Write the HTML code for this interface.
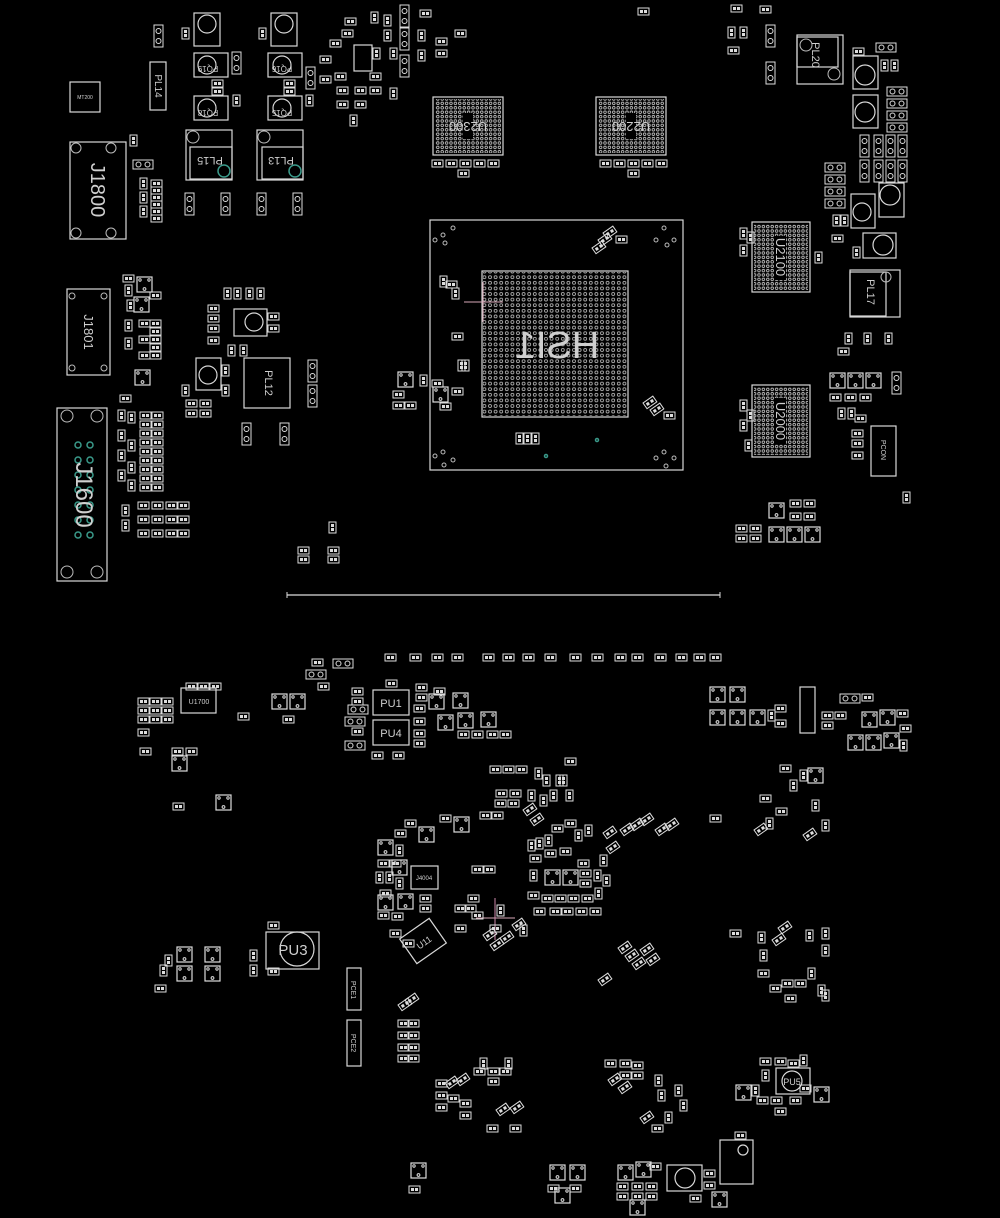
<!DOCTYPE html>
<html><head><meta charset="utf-8"><style>
html,body{margin:0;padding:0;background:#000;}
svg{display:block}
text{font-family:"Liberation Sans",sans-serif;fill:#cfcfcf}
</style></head><body>
<svg width="1000" height="1218" viewBox="0 0 1000 1218" xmlns="http://www.w3.org/2000/svg">
<defs>
<pattern id="bga" width="5.6" height="5.6" patternUnits="userSpaceOnUse"><circle cx="2.8" cy="2.8" r="1.5" fill="none" stroke="#bbb" stroke-width="0.8"/></pattern>
<pattern id="bga2" width="4.4" height="4.4" patternUnits="userSpaceOnUse"><circle cx="2.2" cy="2.2" r="1.3" fill="none" stroke="#ccc" stroke-width="0.8"/></pattern>
<g id="h"><rect x="0" y="0" width="11" height="7" fill="none" stroke="#ddd" stroke-width="1"/><rect x="2" y="2" width="3" height="3" fill="#ddd"/><rect x="6" y="2" width="3" height="3" fill="#ddd"/></g>
<g id="v"><rect x="0" y="0" width="7" height="11" fill="none" stroke="#ddd" stroke-width="1"/><rect x="2" y="2" width="3" height="3" fill="#ddd"/><rect x="2" y="6" width="3" height="3" fill="#ddd"/></g>
<g id="V"><rect x="0" y="0" width="9" height="22" fill="none" stroke="#ddd" stroke-width="1"/><circle cx="4.5" cy="6" r="2.5" fill="none" stroke="#ddd"/><circle cx="4.5" cy="16" r="2.5" fill="none" stroke="#ddd"/></g>
<g id="H"><rect x="0" y="0" width="20" height="9" fill="none" stroke="#ddd" stroke-width="1"/><circle cx="5.5" cy="4.5" r="2.5" fill="none" stroke="#ddd"/><circle cx="14.5" cy="4.5" r="2.5" fill="none" stroke="#ddd"/></g>
<g id="s"><rect x="0" y="0" width="15" height="15" fill="none" stroke="#ddd" stroke-width="1.2"/><circle cx="3" cy="3" r="1.2" fill="none" stroke="#ddd"/><circle cx="12" cy="3" r="1.2" fill="none" stroke="#ddd"/><circle cx="7.5" cy="12" r="1.4" fill="none" stroke="#ddd"/></g>
<g id="d"><rect x="0" y="0" width="12" height="7" fill="none" stroke="#ddd" transform="rotate(-35)"/><rect x="2" y="2" width="3" height="3" fill="#ddd" transform="rotate(-35)"/><rect x="7" y="2" width="3" height="3" fill="#ddd" transform="rotate(-35)"/></g>
</defs>
<g fill="none" stroke="#d8d8d8" stroke-width="1.2">
<rect x="430" y="220" width="253" height="250"/>
<rect x="482" y="271" width="146" height="146"/>
<rect x="433" y="97" width="70" height="58"/>
<rect x="596" y="97" width="70" height="58"/>
<rect x="752" y="222" width="58" height="70"/>
<rect x="752" y="385" width="58" height="72"/>
<rect x="70" y="142" width="56" height="97"/>
<rect x="67" y="289" width="43" height="86"/>
<rect x="57" y="408" width="50" height="173"/>
<rect x="70" y="82" width="30" height="30"/>
<rect x="150" y="62" width="16" height="48"/>
<rect x="194" y="13" width="26" height="33"/><circle cx="207" cy="24" r="9"/>
<rect x="271" y="13" width="26" height="33"/><circle cx="284" cy="24" r="9"/>
<rect x="194" y="53" width="34" height="24"/><circle cx="207" cy="65" r="9"/>
<rect x="268" y="53" width="34" height="24"/><circle cx="282" cy="65" r="9"/>
<rect x="194" y="96" width="34" height="24"/><circle cx="207" cy="108" r="9"/>
<rect x="268" y="96" width="34" height="24"/><circle cx="282" cy="108" r="9"/>
<rect x="186" y="130" width="46" height="50"/><rect x="190" y="147" width="42" height="32"/>
<rect x="257" y="130" width="46" height="50"/><rect x="262" y="147" width="41" height="32"/>
<rect x="797" y="35" width="46" height="49"/><rect x="797" y="37" width="41" height="30"/>
<rect x="853" y="56" width="25" height="33"/><circle cx="865" cy="75" r="10"/>
<rect x="853" y="95" width="25" height="33"/><circle cx="865" cy="112" r="10"/>
<rect x="879" y="183" width="25" height="34"/><circle cx="890" cy="195" r="10"/>
<rect x="851" y="194" width="24" height="34"/><circle cx="862" cy="212" r="9"/>
<rect x="863" y="233" width="33" height="25"/><circle cx="883" cy="245" r="10"/>
<rect x="850" y="270" width="50" height="47"/><rect x="850" y="272" width="36" height="44"/>
<rect x="871" y="426" width="25" height="50"/>
<rect x="234" y="309" width="33" height="27"/><circle cx="254" cy="322" r="9"/>
<rect x="196" y="358" width="25" height="32"/><circle cx="208" cy="375" r="9"/>
<rect x="244" y="358" width="46" height="50"/>
<rect x="181" y="688" width="35" height="25"/>
<rect x="373" y="690" width="36" height="25"/><rect x="373" y="720" width="36" height="25"/>
<rect x="266" y="932" width="53" height="37"/><circle cx="297" cy="949" r="17"/>
<rect x="411" y="866" width="27" height="23"/>
<rect x="347" y="968" width="14" height="42"/><rect x="347" y="1020" width="14" height="46"/>
<rect x="800" y="687" width="15" height="46"/>
<rect x="776" y="1068" width="34" height="26"/><circle cx="792" cy="1081" r="10"/>
<rect x="667" y="1165" width="35" height="26"/><circle cx="685" cy="1178" r="10"/>
<rect x="720" y="1140" width="33" height="44"/><circle cx="743" cy="1150" r="5"/>
<rect x="405" y="926" width="36" height="30" transform="rotate(-35 423 941)"/>
<rect x="354" y="45" width="18" height="26"/>
</g>
<rect x="483" y="272" width="144" height="144" fill="url(#bga)"/>
<rect x="435" y="99" width="66" height="54" fill="url(#bga2)"/>
<rect x="598" y="99" width="66" height="54" fill="url(#bga2)"/>
<rect x="754" y="224" width="54" height="66" fill="url(#bga2)"/>
<rect x="754" y="387" width="54" height="68" fill="url(#bga2)"/>
<rect x="463" y="113" width="10" height="26" fill="#000"/><rect x="626" y="113" width="10" height="26" fill="#000"/>
<rect x="774" y="236" width="12" height="44" fill="#000"/><rect x="774" y="398" width="12" height="46" fill="#000"/>
<line x1="287" y1="595" x2="720" y2="595" stroke="#ddd" stroke-width="1.3"/>
<line x1="287" y1="592" x2="287" y2="598" stroke="#ddd"/><line x1="720" y1="592" x2="720" y2="598" stroke="#ddd"/>
<line x1="464" y1="302" x2="503" y2="302" stroke="#d9a9b9"/><line x1="483" y1="282" x2="483" y2="322" stroke="#d9a9b9"/>
<line x1="476" y1="918" x2="515" y2="918" stroke="#d9a9b9"/><line x1="495" y1="898" x2="495" y2="940" stroke="#c8a"/>
<g fill="none" stroke="#bbb"><circle cx="443" cy="235" r="2"/><circle cx="453" cy="228" r="2"/><circle cx="435" cy="240" r="2"/><circle cx="445" cy="243" r="2"/>
<circle cx="664" cy="228" r="2"/><circle cx="674" cy="240" r="2"/><circle cx="656" cy="240" r="2"/><circle cx="667" cy="245" r="2"/>
<circle cx="443" cy="452" r="2"/><circle cx="453" cy="460" r="2"/><circle cx="435" cy="456" r="2"/><circle cx="444" cy="465" r="2"/>
<circle cx="664" cy="452" r="2"/><circle cx="674" cy="458" r="2"/><circle cx="656" cy="458" r="2"/><circle cx="666" cy="466" r="2"/>
<circle cx="76" cy="148" r="5"/><circle cx="111" cy="148" r="5"/><circle cx="76" cy="233" r="5"/><circle cx="111" cy="233" r="5"/>
<circle cx="67" cy="416" r="6"/><circle cx="97" cy="416" r="6"/><circle cx="67" cy="572" r="6"/><circle cx="97" cy="572" r="6"/>
<circle cx="72" cy="296" r="3"/><circle cx="104" cy="296" r="3"/><circle cx="72" cy="368" r="3"/><circle cx="104" cy="368" r="3"/>
<circle cx="193" cy="137" r="6"/><circle cx="264" cy="137" r="6"/><circle cx="806" cy="45" r="6"/><circle cx="834" cy="74" r="6"/>
<circle cx="886" cy="277" r="5"/></g>
<g fill="none" stroke="#3a9a8a" stroke-width="1.5"><circle cx="224" cy="171" r="6"/><circle cx="295" cy="171" r="6"/>
<circle cx="78" cy="445" r="3"/><circle cx="90" cy="445" r="3"/><circle cx="78" cy="460" r="3"/><circle cx="90" cy="460" r="3"/><circle cx="78" cy="475" r="3"/><circle cx="90" cy="475" r="3"/><circle cx="78" cy="490" r="3"/><circle cx="90" cy="490" r="3"/><circle cx="78" cy="505" r="3"/><circle cx="90" cy="505" r="3"/><circle cx="78" cy="520" r="3"/><circle cx="90" cy="520" r="3"/><circle cx="78" cy="535" r="3"/><circle cx="90" cy="535" r="3"/><circle cx="597" cy="440" r="1.5"/><circle cx="546" cy="456" r="1.5"/></g>
<text x="-557" y="358" font-size="38" fill="#ddd" text-anchor="middle" transform="scale(-1,1)">HSI1</text>
<text x="468" y="127" font-size="13" text-anchor="middle" transform="rotate(180 468 127)" dy="5">U2300</text>
<text x="631" y="127" font-size="13" text-anchor="middle" transform="rotate(180 631 127)" dy="5">U2200</text>
<text x="781" y="257" font-size="13" text-anchor="middle" transform="rotate(90 781 257)" dy="5">U2100</text>
<text x="781" y="421" font-size="13" text-anchor="middle" transform="rotate(90 781 421)" dy="5">U2000</text>
<text x="98" y="190" font-size="20" text-anchor="middle" transform="rotate(90 98 190)" dy="7">J1800</text>
<text x="89" y="332" font-size="13" text-anchor="middle" transform="rotate(90 89 332)" dy="5">J1801</text>
<text x="84" y="495" font-size="24" text-anchor="middle" transform="rotate(90 84 495)" dy="8">J1600</text>
<text x="293" y="955" font-size="15" text-anchor="middle">PU3</text>
<text x="199" y="704" font-size="7" text-anchor="middle">U1700</text>
<text x="424" y="880" font-size="6" text-anchor="middle">J4004</text>
<text x="158" y="86" font-size="10" text-anchor="middle" transform="rotate(90 158 86)" dy="3">PL14</text>
<text x="210" y="157" font-size="11" text-anchor="middle" transform="rotate(180 210 157)">PL15</text>
<text x="281" y="157" font-size="11" text-anchor="middle" transform="rotate(180 281 157)">PL13</text>
<text x="815" y="55" font-size="11" text-anchor="middle" transform="rotate(90 815 55)" dy="3">PL20</text>
<text x="870" y="292" font-size="11" text-anchor="middle" transform="rotate(90 870 292)" dy="3">PL17</text>
<text x="268" y="383" font-size="11" text-anchor="middle" transform="rotate(90 268 383)" dy="3">PL12</text>
<text x="884" y="450" font-size="7" text-anchor="middle" transform="rotate(90 884 450)" dy="3">PCON</text>
<text x="391" y="707" font-size="11" text-anchor="middle">PU1</text>
<text x="391" y="737" font-size="11" text-anchor="middle">PU4</text>
<text x="792" y="1085" font-size="9" text-anchor="middle">PU5</text>
<text x="423" y="946" font-size="9" text-anchor="middle" transform="rotate(-35 423 941)">U11</text>
<text x="85" y="99" font-size="5" text-anchor="middle">MT200</text>
<text x="353" y="990" font-size="7" text-anchor="middle" transform="rotate(90 353 990)" dy="2">PCE1</text>
<text x="353" y="1043" font-size="7" text-anchor="middle" transform="rotate(90 353 1043)" dy="2">PCE2</text>
<text x="208" y="66" font-size="8" text-anchor="middle" transform="rotate(180 208 66)">PQ19</text>
<text x="282" y="66" font-size="8" text-anchor="middle" transform="rotate(180 282 66)">PQ16</text>
<text x="208" y="110" font-size="8" text-anchor="middle" transform="rotate(180 208 110)">PQ18</text>
<text x="282" y="110" font-size="8" text-anchor="middle" transform="rotate(180 282 110)">PQ15</text>
<g>
<use href="#V" x="154" y="25"/><use href="#v" x="182" y="28"/><use href="#v" x="259" y="28"/><use href="#V" x="232" y="52"/><use href="#v" x="233" y="95"/><use href="#v" x="306" y="95"/><use href="#V" x="306" y="67"/>
<use href="#h" x="212" y="80"/><use href="#h" x="212" y="88"/><use href="#h" x="284" y="80"/><use href="#h" x="284" y="88"/>
<use href="#v" x="130" y="135"/><use href="#H" x="133" y="160"/><use href="#v" x="140" y="178"/><use href="#v" x="140" y="192"/><use href="#v" x="140" y="206"/>
<use href="#h" x="151" y="180"/><use href="#h" x="151" y="187"/><use href="#h" x="151" y="194"/><use href="#h" x="151" y="201"/><use href="#h" x="151" y="208"/><use href="#h" x="151" y="215"/>
<use href="#V" x="185" y="193"/><use href="#V" x="221" y="193"/><use href="#V" x="257" y="193"/><use href="#V" x="293" y="193"/>
<use href="#h" x="330" y="40"/><use href="#h" x="342" y="30"/><use href="#h" x="345" y="18"/><use href="#v" x="371" y="12"/><use href="#v" x="384" y="15"/><use href="#v" x="384" y="30"/><use href="#v" x="373" y="48"/><use href="#v" x="390" y="48"/><use href="#V" x="400" y="5"/><use href="#V" x="400" y="28"/><use href="#V" x="400" y="55"/><use href="#v" x="418" y="30"/><use href="#v" x="418" y="50"/><use href="#h" x="420" y="10"/><use href="#h" x="436" y="38"/><use href="#h" x="436" y="50"/><use href="#h" x="455" y="30"/>
<use href="#h" x="335" y="73"/><use href="#h" x="337" y="87"/><use href="#h" x="337" y="101"/><use href="#h" x="355" y="87"/><use href="#h" x="355" y="101"/><use href="#h" x="370" y="73"/><use href="#h" x="370" y="87"/><use href="#v" x="390" y="88"/><use href="#v" x="350" y="115"/><use href="#h" x="320" y="56"/><use href="#h" x="320" y="76"/>
<use href="#h" x="432" y="160"/><use href="#h" x="446" y="160"/><use href="#h" x="460" y="160"/><use href="#h" x="474" y="160"/><use href="#h" x="488" y="160"/><use href="#h" x="458" y="170"/>
<use href="#h" x="600" y="160"/><use href="#h" x="614" y="160"/><use href="#h" x="628" y="160"/><use href="#h" x="642" y="160"/><use href="#h" x="656" y="160"/><use href="#h" x="628" y="170"/>
<use href="#h" x="638" y="8"/><use href="#h" x="731" y="5"/><use href="#h" x="760" y="6"/><use href="#v" x="728" y="27"/><use href="#v" x="740" y="27"/><use href="#h" x="728" y="47"/><use href="#V" x="766" y="25"/><use href="#V" x="766" y="62"/><use href="#H" x="876" y="43"/><use href="#h" x="853" y="48"/>
<use href="#v" x="881" y="60"/><use href="#v" x="891" y="60"/><use href="#H" x="887" y="87"/><use href="#H" x="887" y="99"/><use href="#H" x="887" y="111"/><use href="#H" x="887" y="123"/>
<use href="#V" x="860" y="135"/><use href="#V" x="874" y="135"/><use href="#V" x="886" y="135"/><use href="#V" x="898" y="135"/><use href="#V" x="860" y="160"/><use href="#V" x="874" y="160"/><use href="#V" x="886" y="160"/><use href="#V" x="898" y="160"/>
<use href="#H" x="825" y="163"/><use href="#H" x="825" y="175"/><use href="#H" x="825" y="187"/><use href="#H" x="825" y="199"/><use href="#v" x="833" y="215"/><use href="#v" x="841" y="215"/><use href="#h" x="832" y="235"/><use href="#v" x="853" y="247"/><use href="#v" x="740" y="228"/><use href="#v" x="740" y="245"/><use href="#v" x="747" y="232"/><use href="#v" x="815" y="252"/>
<use href="#v" x="845" y="333"/><use href="#v" x="864" y="333"/><use href="#v" x="885" y="333"/><use href="#h" x="838" y="348"/>
<use href="#s" x="830" y="373"/><use href="#s" x="848" y="373"/><use href="#s" x="866" y="373"/><use href="#V" x="892" y="372"/><use href="#h" x="830" y="394"/><use href="#h" x="845" y="394"/><use href="#h" x="860" y="394"/><use href="#v" x="838" y="408"/><use href="#v" x="848" y="408"/><use href="#h" x="855" y="415"/><use href="#h" x="852" y="430"/><use href="#h" x="852" y="440"/><use href="#h" x="852" y="452"/><use href="#v" x="740" y="400"/><use href="#v" x="740" y="420"/><use href="#v" x="747" y="410"/><use href="#v" x="745" y="440"/><use href="#v" x="903" y="492"/>
<use href="#s" x="769" y="503"/><use href="#h" x="790" y="500"/><use href="#h" x="804" y="500"/><use href="#h" x="790" y="513"/><use href="#h" x="804" y="513"/><use href="#h" x="736" y="525"/><use href="#h" x="750" y="525"/><use href="#h" x="736" y="535"/><use href="#h" x="750" y="535"/><use href="#s" x="769" y="527"/><use href="#s" x="787" y="527"/><use href="#s" x="805" y="527"/>
<use href="#h" x="123" y="275"/><use href="#v" x="125" y="285"/><use href="#s" x="137" y="277"/><use href="#h" x="150" y="292"/><use href="#v" x="127" y="300"/><use href="#s" x="134" y="297"/><use href="#v" x="125" y="320"/><use href="#v" x="125" y="338"/><use href="#h" x="150" y="320"/><use href="#h" x="150" y="328"/><use href="#h" x="150" y="336"/><use href="#h" x="150" y="344"/><use href="#h" x="150" y="352"/><use href="#h" x="139" y="320"/><use href="#h" x="139" y="336"/><use href="#h" x="139" y="352"/><use href="#s" x="135" y="370"/>
<use href="#v" x="224" y="288"/><use href="#v" x="234" y="288"/><use href="#v" x="246" y="288"/><use href="#v" x="257" y="288"/><use href="#h" x="208" y="305"/><use href="#h" x="208" y="315"/><use href="#h" x="208" y="325"/><use href="#h" x="208" y="337"/><use href="#h" x="268" y="313"/><use href="#h" x="268" y="325"/><use href="#v" x="228" y="345"/><use href="#v" x="240" y="345"/>
<use href="#v" x="182" y="385"/><use href="#h" x="186" y="400"/><use href="#h" x="200" y="400"/><use href="#h" x="186" y="410"/><use href="#h" x="200" y="410"/><use href="#v" x="222" y="365"/><use href="#v" x="222" y="385"/><use href="#V" x="242" y="423"/><use href="#V" x="280" y="423"/><use href="#V" x="308" y="360"/><use href="#V" x="308" y="385"/>
<use href="#h" x="120" y="395"/><use href="#v" x="118" y="410"/><use href="#v" x="128" y="412"/><g id="col"><use href="#h" x="140" y="412"/><use href="#h" x="152" y="412"/><use href="#h" x="140" y="421"/><use href="#h" x="152" y="421"/><use href="#h" x="140" y="430"/><use href="#h" x="152" y="430"/><use href="#h" x="140" y="439"/><use href="#h" x="152" y="439"/></g>
<use href="#col" y="36"/><use href="#v" x="118" y="430"/><use href="#v" x="118" y="450"/><use href="#v" x="118" y="470"/><use href="#v" x="128" y="440"/><use href="#v" x="128" y="462"/><use href="#v" x="128" y="480"/><use href="#h" x="140" y="484"/><use href="#h" x="152" y="484"/>
<use href="#v" x="122" y="505"/><use href="#v" x="122" y="520"/><use href="#h" x="138" y="502"/><use href="#h" x="152" y="502"/><use href="#h" x="166" y="502"/><use href="#h" x="178" y="502"/><use href="#h" x="138" y="516"/><use href="#h" x="152" y="516"/><use href="#h" x="166" y="516"/><use href="#h" x="178" y="516"/><use href="#h" x="138" y="530"/><use href="#h" x="152" y="530"/><use href="#h" x="166" y="530"/><use href="#h" x="178" y="530"/>
<use href="#v" x="329" y="522"/><use href="#h" x="298" y="547"/><use href="#h" x="298" y="556"/><use href="#h" x="328" y="547"/><use href="#h" x="328" y="556"/>
<use href="#v" x="440" y="276"/><use href="#h" x="446" y="281"/><use href="#v" x="452" y="288"/><use href="#v" x="458" y="360"/><use href="#h" x="452" y="333"/><use href="#v" x="462" y="360"/><use href="#s" x="398" y="372"/><use href="#h" x="393" y="391"/><use href="#h" x="393" y="402"/><use href="#h" x="405" y="402"/><use href="#s" x="433" y="387"/><use href="#h" x="440" y="403"/><use href="#v" x="420" y="375"/><use href="#h" x="432" y="380"/><use href="#h" x="452" y="388"/><use href="#v" x="516" y="433"/><use href="#v" x="524" y="433"/><use href="#v" x="532" y="433"/>
<use href="#d" x="592" y="248"/><use href="#d" x="598" y="240"/><use href="#d" x="603" y="233"/><use href="#h" x="616" y="236"/><use href="#d" x="643" y="403"/><use href="#d" x="650" y="410"/><use href="#h" x="664" y="412"/>
<use href="#h" x="312" y="659"/><use href="#H" x="333" y="659"/><use href="#H" x="306" y="670"/><use href="#h" x="318" y="683"/>
<use href="#h" x="385" y="654"/><use href="#h" x="410" y="654"/><use href="#h" x="432" y="654"/><use href="#h" x="452" y="654"/><use href="#h" x="483" y="654"/><use href="#h" x="503" y="654"/><use href="#h" x="523" y="654"/><use href="#h" x="545" y="654"/><use href="#h" x="570" y="654"/><use href="#h" x="592" y="654"/><use href="#h" x="615" y="654"/><use href="#h" x="632" y="654"/><use href="#h" x="655" y="654"/><use href="#h" x="676" y="654"/><use href="#h" x="694" y="654"/><use href="#h" x="710" y="654"/>
<use href="#h" x="186" y="683"/><use href="#h" x="198" y="683"/><use href="#h" x="210" y="683"/><use href="#h" x="138" y="698"/><use href="#h" x="150" y="698"/><use href="#h" x="162" y="698"/><use href="#h" x="138" y="707"/><use href="#h" x="150" y="707"/><use href="#h" x="162" y="707"/><use href="#h" x="138" y="716"/><use href="#h" x="150" y="716"/><use href="#h" x="162" y="716"/><use href="#h" x="138" y="729"/><use href="#h" x="140" y="748"/><use href="#h" x="172" y="748"/><use href="#h" x="186" y="748"/><use href="#s" x="172" y="756"/><use href="#h" x="238" y="713"/><use href="#h" x="173" y="803"/><use href="#s" x="216" y="795"/>
<use href="#s" x="272" y="694"/><use href="#s" x="290" y="694"/><use href="#h" x="283" y="716"/>
<use href="#h" x="352" y="688"/><use href="#h" x="352" y="698"/><use href="#H" x="348" y="705"/><use href="#H" x="345" y="717"/><use href="#h" x="352" y="728"/><use href="#H" x="345" y="741"/><use href="#h" x="372" y="752"/><use href="#h" x="393" y="752"/><use href="#h" x="386" y="680"/><use href="#h" x="416" y="684"/><use href="#h" x="416" y="694"/><use href="#h" x="414" y="705"/><use href="#h" x="434" y="688"/><use href="#s" x="429" y="694"/><use href="#s" x="453" y="693"/><use href="#h" x="414" y="718"/><use href="#h" x="414" y="730"/><use href="#h" x="414" y="740"/><use href="#s" x="438" y="715"/><use href="#s" x="458" y="713"/><use href="#s" x="481" y="712"/><use href="#h" x="458" y="731"/><use href="#h" x="472" y="731"/><use href="#h" x="487" y="731"/><use href="#h" x="500" y="731"/>
<use href="#h" x="490" y="766"/><use href="#h" x="503" y="766"/><use href="#h" x="516" y="766"/><use href="#v" x="535" y="768"/><use href="#v" x="543" y="775"/><use href="#h" x="496" y="790"/><use href="#h" x="510" y="790"/><use href="#v" x="528" y="790"/><use href="#v" x="540" y="795"/><use href="#v" x="550" y="790"/><use href="#v" x="556" y="775"/><use href="#d" x="523" y="810"/><use href="#d" x="530" y="820"/>
<use href="#h" x="495" y="800"/><use href="#h" x="508" y="800"/><use href="#s" x="454" y="817"/><use href="#h" x="440" y="815"/><use href="#h" x="405" y="820"/><use href="#h" x="395" y="830"/><use href="#s" x="419" y="827"/><use href="#h" x="480" y="812"/><use href="#h" x="492" y="812"/><use href="#s" x="378" y="840"/><use href="#v" x="396" y="845"/><use href="#h" x="378" y="860"/><use href="#h" x="390" y="860"/><use href="#s" x="392" y="860"/><use href="#v" x="376" y="872"/><use href="#v" x="386" y="872"/><use href="#v" x="396" y="878"/><use href="#h" x="380" y="890"/><use href="#s" x="378" y="895"/><use href="#s" x="398" y="894"/><use href="#h" x="378" y="912"/><use href="#h" x="392" y="913"/><use href="#h" x="390" y="930"/><use href="#h" x="420" y="895"/><use href="#h" x="420" y="905"/><use href="#h" x="403" y="940"/>
<use href="#h" x="472" y="866"/><use href="#h" x="484" y="866"/><use href="#h" x="468" y="895"/><use href="#h" x="455" y="905"/><use href="#h" x="465" y="905"/><use href="#h" x="472" y="912"/><use href="#v" x="497" y="905"/><use href="#h" x="455" y="925"/><use href="#h" x="490" y="925"/><use href="#d" x="483" y="935"/><use href="#d" x="490" y="945"/><use href="#d" x="500" y="938"/><use href="#d" x="512" y="925"/><use href="#v" x="520" y="925"/>
<use href="#v" x="528" y="840"/><use href="#v" x="536" y="838"/><use href="#v" x="545" y="835"/><use href="#h" x="552" y="825"/><use href="#h" x="565" y="820"/><use href="#v" x="575" y="830"/><use href="#v" x="585" y="825"/><use href="#h" x="530" y="855"/><use href="#h" x="545" y="850"/><use href="#h" x="560" y="848"/><use href="#s" x="545" y="870"/><use href="#s" x="563" y="870"/><use href="#h" x="578" y="860"/><use href="#h" x="580" y="870"/><use href="#h" x="580" y="880"/><use href="#v" x="594" y="870"/><use href="#v" x="530" y="870"/><use href="#h" x="528" y="892"/><use href="#h" x="542" y="895"/><use href="#h" x="555" y="895"/><use href="#h" x="568" y="895"/><use href="#h" x="582" y="895"/><use href="#h" x="550" y="908"/><use href="#h" x="562" y="908"/><use href="#h" x="576" y="908"/><use href="#h" x="590" y="908"/><use href="#h" x="534" y="908"/><use href="#v" x="595" y="888"/><use href="#v" x="603" y="875"/><use href="#v" x="600" y="855"/><use href="#d" x="606" y="848"/><use href="#d" x="620" y="830"/><use href="#d" x="630" y="825"/><use href="#d" x="640" y="820"/><use href="#d" x="655" y="830"/><use href="#d" x="665" y="825"/><use href="#d" x="603" y="833"/>
<use href="#d" x="618" y="948"/><use href="#d" x="625" y="956"/><use href="#d" x="632" y="964"/><use href="#d" x="640" y="950"/><use href="#d" x="646" y="960"/><use href="#d" x="598" y="980"/>
<use href="#h" x="565" y="758"/><use href="#v" x="560" y="775"/><use href="#v" x="566" y="790"/><use href="#h" x="710" y="815"/>
<use href="#s" x="710" y="687"/><use href="#s" x="730" y="687"/><use href="#s" x="710" y="710"/><use href="#s" x="730" y="710"/><use href="#s" x="750" y="710"/><use href="#v" x="768" y="710"/><use href="#h" x="775" y="705"/><use href="#h" x="775" y="720"/><use href="#H" x="840" y="694"/><use href="#h" x="862" y="694"/><use href="#h" x="822" y="712"/><use href="#h" x="822" y="722"/><use href="#h" x="835" y="712"/><use href="#s" x="862" y="712"/><use href="#s" x="880" y="710"/><use href="#h" x="897" y="710"/><use href="#h" x="900" y="725"/><use href="#s" x="848" y="735"/><use href="#s" x="866" y="735"/><use href="#s" x="884" y="733"/><use href="#v" x="900" y="740"/>
<use href="#h" x="780" y="765"/><use href="#v" x="790" y="780"/><use href="#v" x="800" y="770"/><use href="#s" x="808" y="768"/><use href="#h" x="760" y="795"/><use href="#h" x="776" y="808"/><use href="#v" x="766" y="818"/><use href="#v" x="812" y="800"/><use href="#d" x="754" y="830"/><use href="#d" x="803" y="835"/><use href="#v" x="822" y="820"/>
<use href="#h" x="730" y="930"/><use href="#v" x="758" y="932"/><use href="#v" x="760" y="950"/><use href="#d" x="772" y="940"/><use href="#d" x="778" y="928"/><use href="#v" x="806" y="930"/><use href="#v" x="822" y="928"/><use href="#v" x="822" y="945"/><use href="#h" x="758" y="970"/><use href="#h" x="770" y="985"/><use href="#h" x="782" y="980"/><use href="#h" x="795" y="980"/><use href="#v" x="808" y="968"/><use href="#v" x="818" y="985"/><use href="#h" x="785" y="995"/><use href="#v" x="822" y="990"/>
<use href="#s" x="177" y="947"/><use href="#s" x="205" y="947"/><use href="#s" x="177" y="966"/><use href="#s" x="205" y="966"/><use href="#v" x="165" y="955"/><use href="#v" x="160" y="965"/><use href="#h" x="155" y="985"/><use href="#v" x="250" y="950"/><use href="#v" x="250" y="965"/><use href="#h" x="268" y="922"/><use href="#h" x="268" y="968"/>
<use href="#d" x="398" y="1005"/><use href="#d" x="405" y="1000"/><use href="#h" x="398" y="1020"/><use href="#h" x="408" y="1020"/><use href="#h" x="398" y="1032"/><use href="#h" x="408" y="1032"/><use href="#h" x="398" y="1044"/><use href="#h" x="408" y="1044"/><use href="#h" x="398" y="1055"/><use href="#h" x="408" y="1055"/>
<use href="#h" x="436" y="1080"/><use href="#h" x="436" y="1092"/><use href="#h" x="436" y="1104"/><use href="#h" x="448" y="1095"/><use href="#h" x="460" y="1100"/><use href="#d" x="445" y="1083"/><use href="#d" x="456" y="1080"/><use href="#h" x="474" y="1068"/><use href="#h" x="488" y="1068"/><use href="#h" x="500" y="1068"/><use href="#h" x="488" y="1078"/><use href="#v" x="505" y="1058"/><use href="#v" x="480" y="1058"/><use href="#h" x="460" y="1112"/><use href="#d" x="496" y="1110"/><use href="#d" x="510" y="1108"/><use href="#h" x="487" y="1125"/><use href="#h" x="510" y="1125"/>
<use href="#s" x="411" y="1163"/><use href="#h" x="409" y="1186"/>
<use href="#h" x="605" y="1060"/><use href="#h" x="620" y="1060"/><use href="#h" x="632" y="1062"/><use href="#h" x="620" y="1072"/><use href="#h" x="632" y="1072"/><use href="#d" x="608" y="1080"/><use href="#d" x="618" y="1088"/><use href="#v" x="655" y="1075"/><use href="#v" x="658" y="1090"/><use href="#v" x="675" y="1085"/><use href="#v" x="680" y="1100"/><use href="#v" x="665" y="1112"/><use href="#d" x="640" y="1118"/><use href="#h" x="652" y="1125"/>
<use href="#s" x="550" y="1165"/><use href="#s" x="570" y="1165"/><use href="#h" x="548" y="1185"/><use href="#h" x="570" y="1185"/><use href="#s" x="555" y="1188"/><use href="#s" x="618" y="1165"/><use href="#s" x="636" y="1162"/><use href="#h" x="650" y="1163"/><use href="#h" x="617" y="1183"/><use href="#h" x="632" y="1183"/><use href="#h" x="646" y="1183"/><use href="#h" x="617" y="1193"/><use href="#h" x="632" y="1193"/><use href="#h" x="646" y="1193"/><use href="#s" x="630" y="1200"/><use href="#h" x="704" y="1170"/><use href="#h" x="704" y="1182"/><use href="#s" x="712" y="1192"/><use href="#h" x="690" y="1195"/><use href="#h" x="735" y="1132"/>
<use href="#h" x="760" y="1058"/><use href="#h" x="775" y="1058"/><use href="#h" x="788" y="1060"/><use href="#v" x="800" y="1055"/><use href="#v" x="762" y="1070"/><use href="#v" x="752" y="1085"/><use href="#s" x="736" y="1085"/><use href="#h" x="757" y="1097"/><use href="#h" x="771" y="1097"/><use href="#h" x="790" y="1097"/><use href="#h" x="800" y="1085"/><use href="#s" x="814" y="1087"/><use href="#h" x="775" y="1108"/>
</g>
</svg>
</body></html>
